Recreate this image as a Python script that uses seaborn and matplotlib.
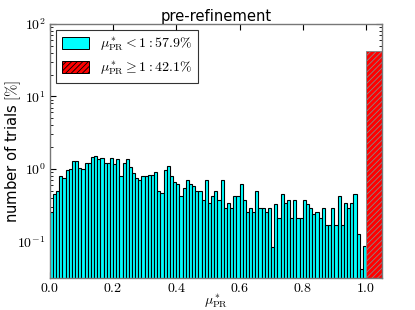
import numpy as np
import pandas as pd
import matplotlib
matplotlib.use("Agg")
import matplotlib.pyplot as plt
import seaborn as sns
from matplotlib.patches import Patch
from matplotlib.ticker import FuncFormatter, FixedLocator, LogLocator

# ---- data (percent of trials per bin, bin width 0.01) ----
bin_width = 0.01
below_pct = [
    0.25, 0.45, 0.49, 0.79, 0.75, 0.95, 0.99, 1.26, 1.26, 1.02,
    0.99, 1.22, 1.19, 1.45, 1.48, 1.37, 1.40, 1.22, 1.20, 1.40,
    1.17, 1.36, 0.79, 1.20, 1.36, 1.05, 0.87, 0.74, 0.70, 0.79,
    0.79, 0.83, 0.83, 0.90, 0.49, 0.46, 0.95, 1.08, 0.79, 0.66,
    0.62, 0.42, 0.54, 0.70, 0.62, 0.58, 0.49, 0.49, 0.37, 0.70,
    0.34, 0.42, 0.50, 0.37, 0.70, 0.29, 0.34, 0.29, 0.42, 0.42,
    0.62, 0.37, 0.25, 0.29, 0.25, 0.50, 0.29, 0.29, 0.25, 0.29,
    0.083, 0.33, 0.21, 0.45, 0.34, 0.37, 0.21, 0.37, 0.21, 0.21,
    0.37, 0.33, 0.29, 0.24, 0.25, 0.21, 0.29, 0.17, 0.17, 0.29,
    0.17, 0.42, 0.17, 0.34, 0.29, 0.34, 0.45, 0.127, 0.042, 0.085,
]
above_pct = [42.1]
above_range = (1.0, 1.05)
legend_labels = [r"$\mu^*_{\rm PR} < 1 : 57.9\%$", r"$\mu^*_{\rm PR} \geq 1 : 42.1\%$"]
xticks = [0.0, 0.2, 0.4, 0.6, 0.8, 1.0]

sns.set_style("ticks")
plt.rcParams["font.family"] = ["DejaVu Sans"]
plt.rcParams["mathtext.fontset"] = "cm"
plt.rcParams["hatch.color"] = "#550000"
plt.rcParams["hatch.linewidth"] = 0.6
for k in ["text.color", "axes.labelcolor", "xtick.color", "ytick.color"]:
    plt.rcParams[k] = "black"

n = len(below_pct)
centers = (np.arange(n) + 0.5) * bin_width
df_below = pd.DataFrame({"mu": centers, "pct": below_pct})
df_above = pd.DataFrame({"mu": [np.mean(above_range)], "pct": above_pct})

fig = plt.figure(figsize=(4.15, 3.10), dpi=100)
ax = fig.add_axes([0.12, 0.103, 0.800, 0.820])

sns.histplot(data=df_below, x="mu", weights="pct", binwidth=bin_width,
             binrange=(0.0, n * bin_width), ax=ax,
             color="#00FFFF", edgecolor="black", linewidth=0.8, alpha=1.0)
sns.histplot(data=df_above, x="mu", weights="pct",
             binwidth=above_range[1] - above_range[0], binrange=above_range, ax=ax,
             color="red", edgecolor="#888888", linewidth=0.7, alpha=1.0,
             hatch="//////")

ax.set_yscale("log")
ax.set_ylim(0.031, 100)
ax.set_xlim(0.0, 1.05)

ax.xaxis.set_major_locator(FixedLocator(xticks))
ax.xaxis.set_major_formatter(FuncFormatter(lambda v, p: r"$%.1f$" % v))
ax.yaxis.set_major_locator(LogLocator(base=10, numticks=10))
ax.yaxis.set_minor_locator(LogLocator(base=10, subs=np.arange(2, 10), numticks=10))
ax.yaxis.set_major_formatter(FuncFormatter(lambda v, p: r"$10^{%d}$" % int(round(np.log10(v)))))

ax.tick_params(which="both", direction="in", top=True, right=True, labelsize=10)
ax.tick_params(axis="x", pad=2)
ax.tick_params(axis="y", pad=3)
ax.tick_params(which="major", length=4)
ax.tick_params(which="minor", length=2)
for s in ax.spines.values():
    s.set_color("#777777")
    s.set_linewidth(1.0)

ax.set_xlabel(r"$\mu^*_{\rm PR}$", fontsize=10)
ax.xaxis.set_label_coords(0.5, -0.055)
ax.set_ylabel(r"number of trials $[\%]$", fontsize=10.6)
ax.yaxis.set_label_coords(-0.082, 0.5)
ax.set_title("pre-refinement", fontsize=10.6, pad=2)

handles = [Patch(facecolor="#00FFFF", edgecolor="black", linewidth=0.7),
           Patch(facecolor="red", edgecolor="black", linewidth=0.7, hatch="//////")]
leg = ax.legend(handles, legend_labels, loc="upper left", fontsize=10,
                frameon=True, fancybox=False, edgecolor="black",
                handlelength=2.0, handleheight=0.9, borderpad=0.4,
                labelspacing=0.45, borderaxespad=0.45, handletextpad=0.8)
leg.get_frame().set_linewidth(0.8)

fig.savefig("out.png", dpi=100)
